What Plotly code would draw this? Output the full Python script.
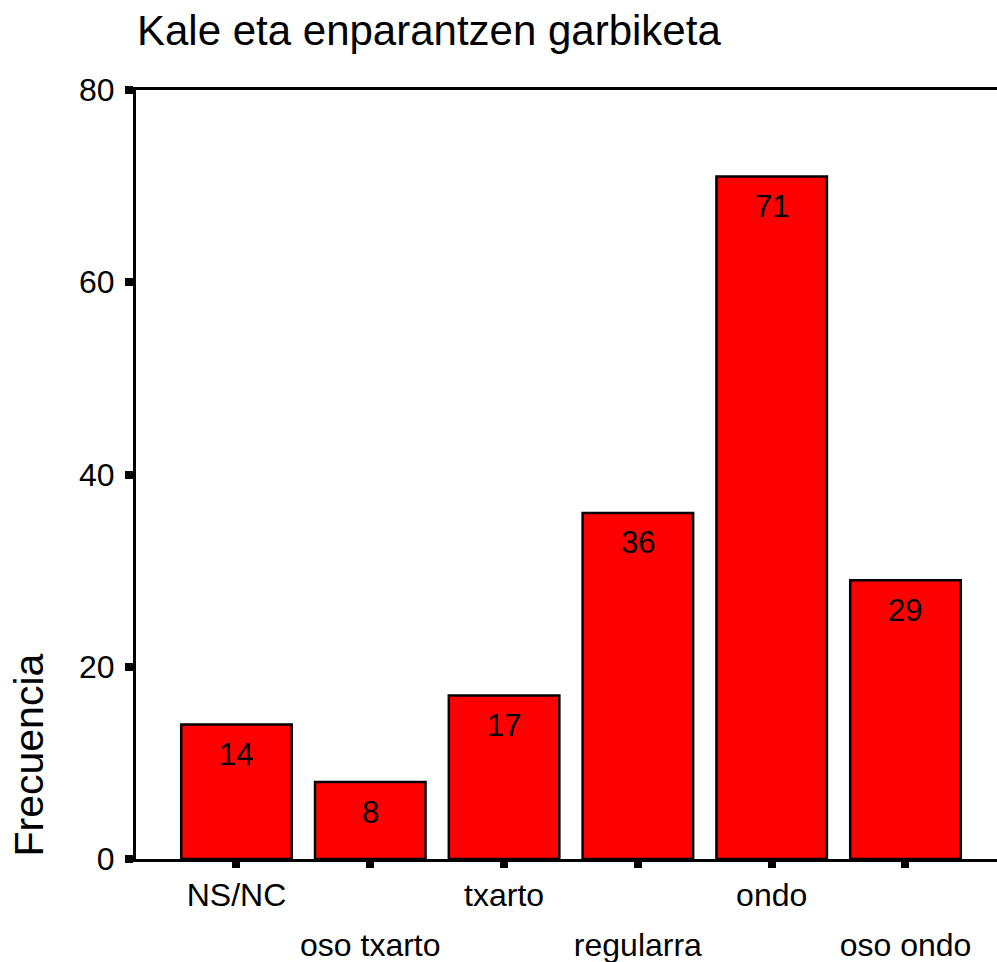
import plotly.graph_objects as go

categories = ["NS/NC", "oso txarto", "txarto", "regularra", "ondo", "oso ondo"]
frequencies = [14, 8, 17, 36, 71, 29]
y_ticks = [0, 20, 40, 60, 80]
title_text = "Kale eta enparantzen garbiketa"
y_title = "Frecuencia"

FONT = "Liberation Sans, Arial, sans-serif"
idx = list(range(len(categories)))
row1 = [c if i % 2 == 0 else "" for i, c in enumerate(categories)]
row2 = [c if i % 2 == 1 else "" for i, c in enumerate(categories)]
xr = [-0.751, 5.684]
PLOT_W = 997 - 136

fig = go.Figure()
fig.add_trace(go.Bar(
    x=idx, y=frequencies,
    marker=dict(color="#FF0000", line=dict(color="black", width=2.5)),
    showlegend=False, hoverinfo="skip",
))
fig.add_trace(go.Scatter(x=[], y=[], xaxis="x2", yaxis="y",
                         showlegend=False, hoverinfo="skip"))

for i, v in zip(idx, frequencies):
    fig.add_annotation(x=i, y=v, xref="x", yref="y", text=str(v),
                       showarrow=False, yanchor="middle", yshift=-30,
                       font=dict(family=FONT, size=31, color="black"))

fig.add_annotation(x=(29 - 136) / PLOT_W, y=0.1346, xref="paper", yref="paper",
                   text=y_title, showarrow=False, textangle=-90,
                   xanchor="center", yanchor="middle",
                   font=dict(family=FONT, size=41, color="black"))

fig.update_layout(
    width=997, height=962,
    margin=dict(l=136, r=0, t=90, b=103),
    paper_bgcolor="white", plot_bgcolor="white",
    bargap=0.174,
    title=dict(text=title_text, x=137 / 997, xref="container", xanchor="left",
               y=1 - 30 / 962, yref="container", yanchor="middle",
               font=dict(family=FONT, size=42, color="black")),
    font=dict(family=FONT, size=32, color="black"),
    xaxis=dict(range=xr, tickmode="array", tickvals=idx, ticktext=row1,
               showline=True, linecolor="black", linewidth=3, mirror=True,
               ticks="outside", ticklen=6, tickwidth=8, tickcolor="black",
               showgrid=False, zeroline=False, ticklabelstandoff=0,
               tickfont=dict(family=FONT, size=32, color="black")),
    xaxis2=dict(range=xr, overlaying="x", anchor="y", side="bottom",
                tickmode="array", tickvals=idx, ticktext=row2,
                showline=False, ticks="", showgrid=False, zeroline=False,
                ticklabelstandoff=64,
                tickfont=dict(family=FONT, size=32, color="black")),
    yaxis=dict(range=[0, 80], tickmode="array", tickvals=y_ticks,
               showline=True, linecolor="black", linewidth=3, mirror=False,
               ticks="outside", ticklen=8, tickwidth=8, tickcolor="black",
               showgrid=False, zeroline=False, ticklabelstandoff=4,
               tickfont=dict(family=FONT, size=32, color="black")),
)

fig.write_html("out.html", config={"displayModeBar": False},
               post_script="document.body.style.margin='0';document.body.style.overflow='hidden';")
